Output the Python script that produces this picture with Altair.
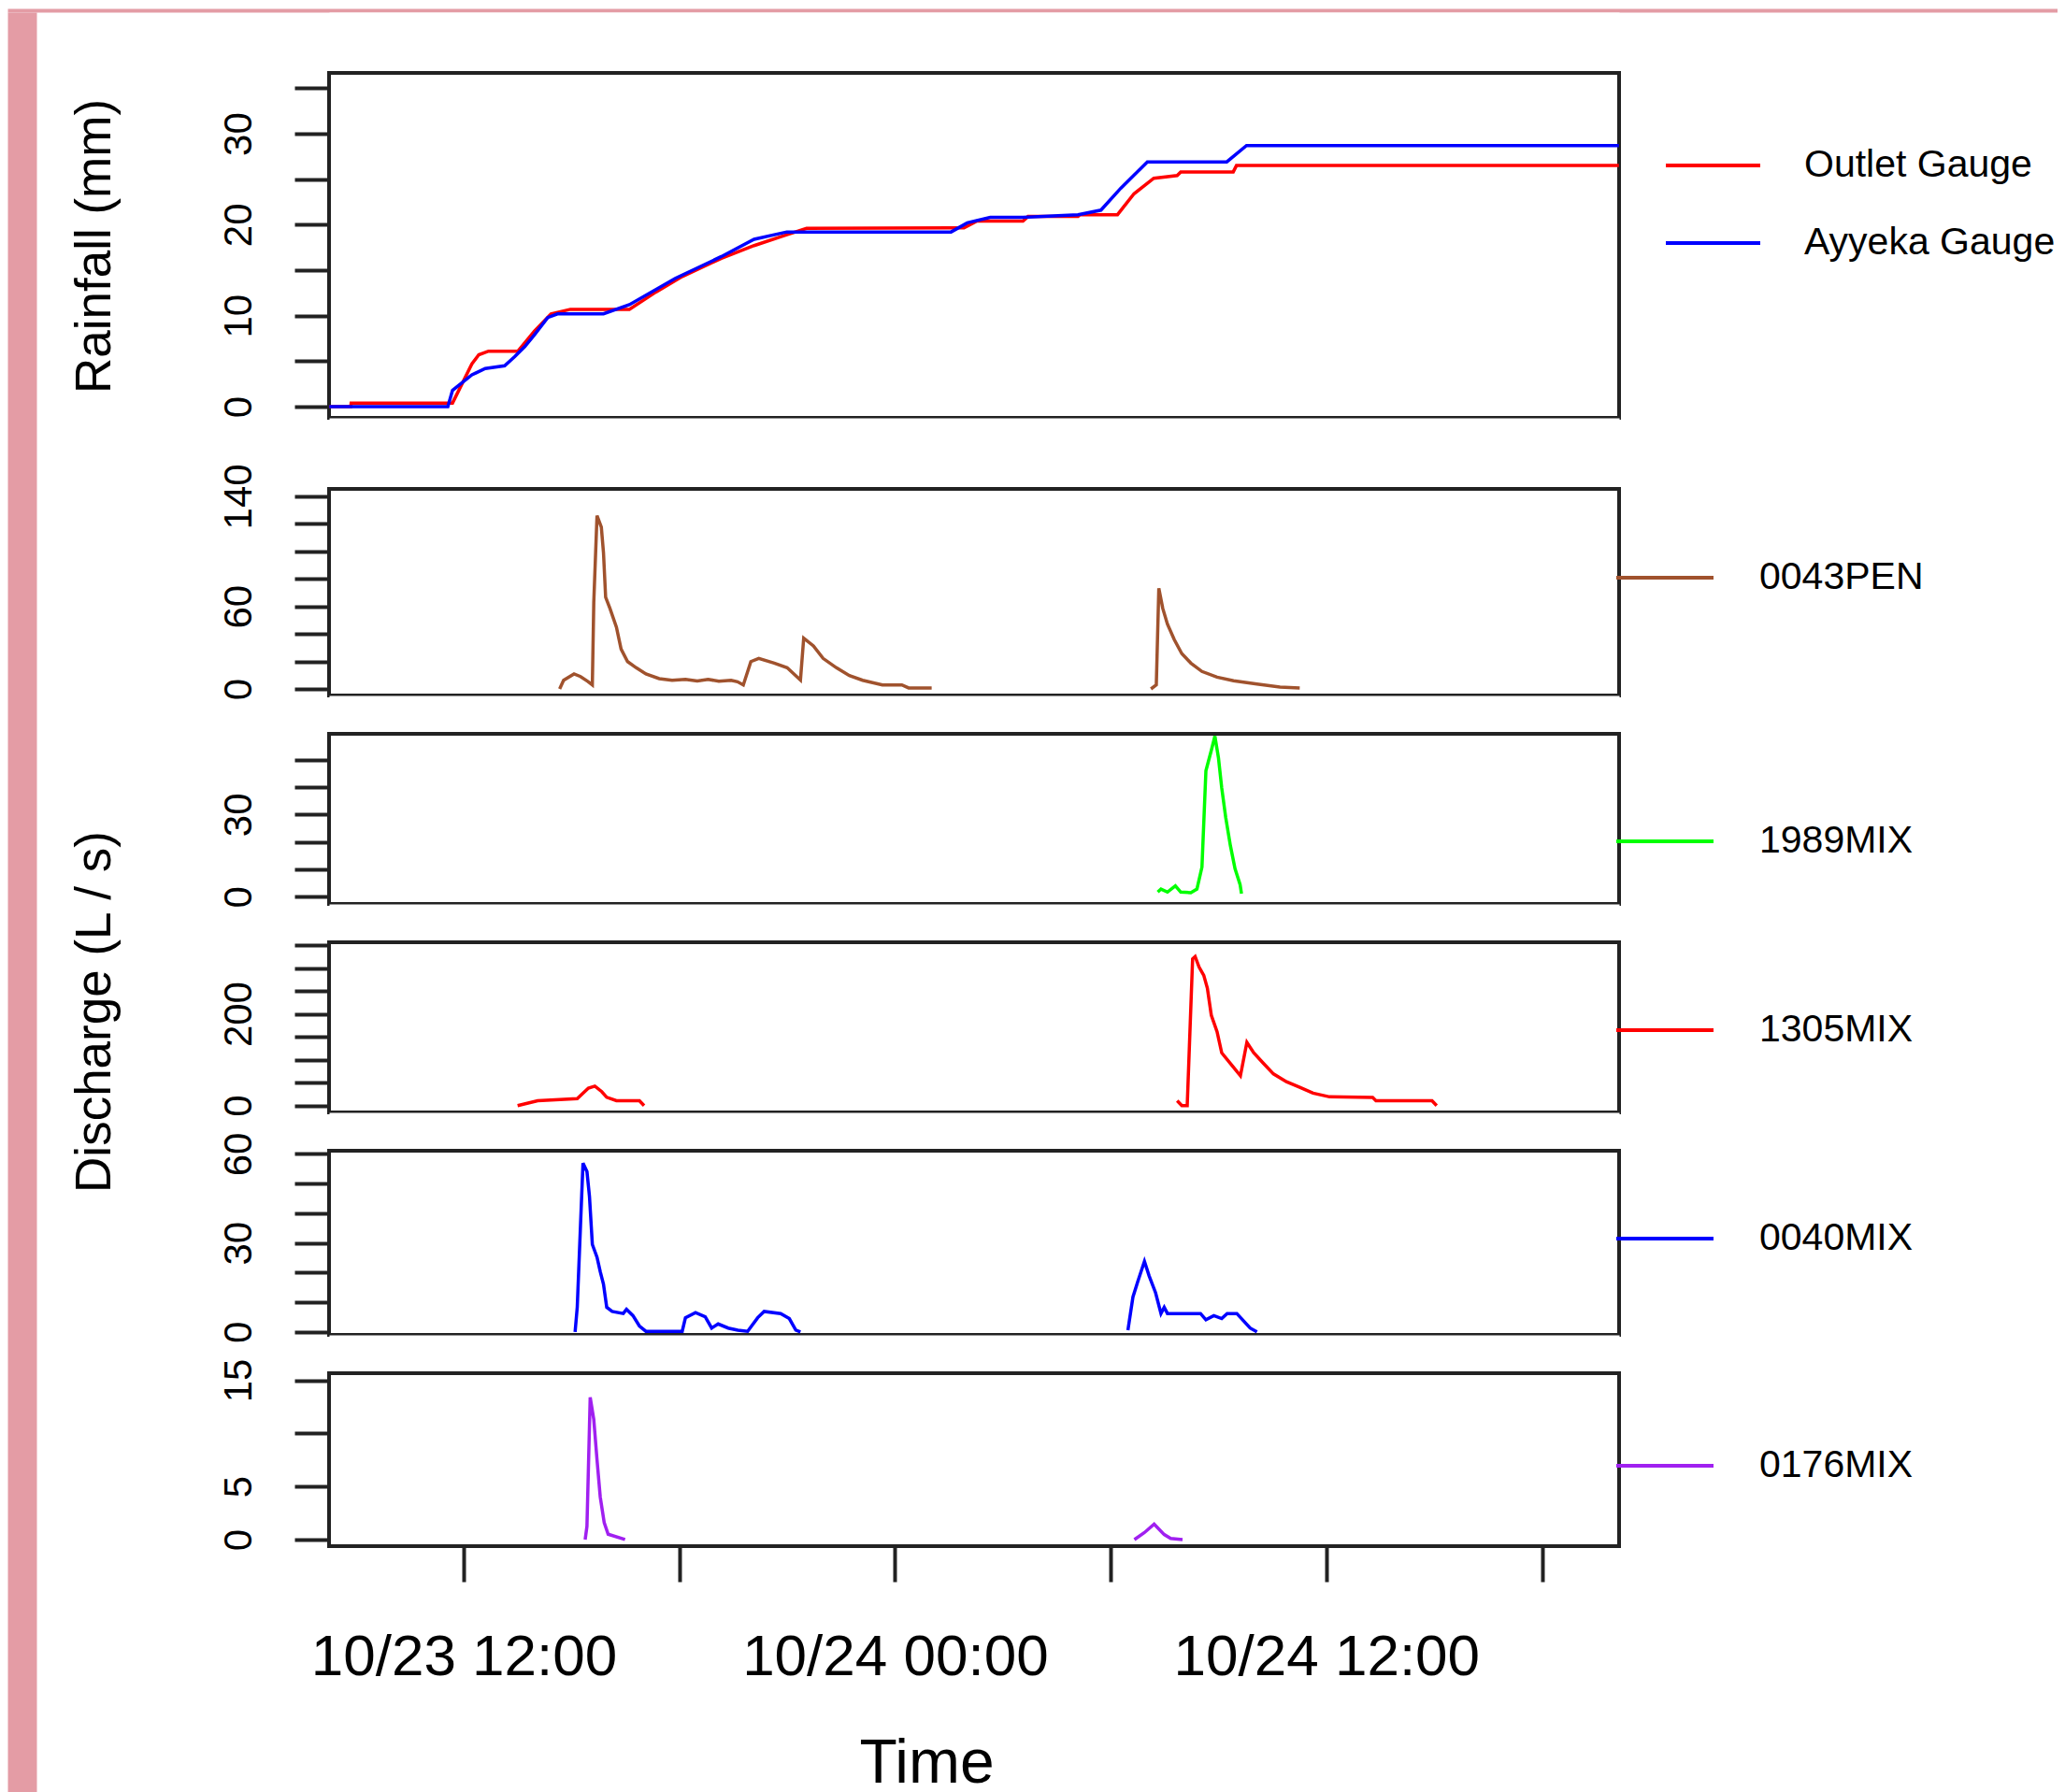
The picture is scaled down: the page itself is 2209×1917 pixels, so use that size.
import json
import altair as alt
import pandas as pd

FONT = "Liberation Sans"
PINK = "#e49ca5"
FRAME = "#222222"

# ---------------- x axis: hours since 10/23 00:00 ----------------
X_DOMAIN = [8.255, 44.145]
X_TICKS = [12, 18, 24, 30, 36, 42]
X_TICK_TEXT = ["10/23 12:00", "", "10/24 00:00", "", "10/24 12:00", ""]

# ---------------- Rainfall (mm) ----------------
OUTLET_T = [8.26, 8.86, 8.87, 11.69, 12.23, 12.42, 12.69, 13.51, 13.97, 14.43,
            14.97, 16.61, 17.35, 18.08, 19.17, 20.08, 20.99, 21.54, 25.92, 26.28,
            27.56, 27.7, 29.09, 29.15, 30.19, 30.65, 31.2, 31.85, 31.95, 33.41,
            33.5, 44.14]
OUTLET_MM = [0.0, 0.0, 0.4, 0.4, 4.7, 5.7, 6.1, 6.1, 8.3, 10.2,
             10.7, 10.7, 12.6, 14.3, 16.3, 17.7, 18.9, 19.6, 19.65, 20.4,
             20.4, 20.9, 20.9, 21.1, 21.1, 23.4, 25.1, 25.4, 25.8, 25.8,
             26.5, 26.5]
AYYEKA_T = [8.26, 11.56, 11.69, 12.23, 12.6, 13.14, 13.42, 13.7, 13.97, 14.34,
            14.61, 15.89, 16.61, 17.89, 19.17, 20.08, 20.99, 21.4, 25.56, 26.01,
            26.65, 27.56, 29.09, 29.73, 30.28, 31.02, 33.23, 33.78, 44.14]
AYYEKA_MM = [0.0, 0.0, 1.8, 3.5, 4.2, 4.5, 5.5, 6.6, 7.9, 9.8,
             10.2, 10.2, 11.2, 14.1, 16.5, 18.4, 19.2, 19.2, 19.2, 20.2,
             20.8, 20.8, 21.1, 21.6, 24.0, 26.9, 26.9, 28.7, 28.7]

# ---------------- Discharge (L/s), one list per event ----------------
PEN0043_T = [[14.67, 14.78, 15.07, 15.25, 15.46, 15.58, 15.62, 15.71, 15.83, 15.89,
              15.95, 16.07, 16.25, 16.38, 16.56, 16.8, 17.07, 17.44, 17.8, 18.17,
              18.5, 18.8, 19.1, 19.44, 19.62, 19.78, 19.99, 20.21, 20.64, 21.0,
              21.37, 21.46, 21.73, 22.0, 22.37, 22.73, 23.1, 23.65, 24.19, 24.38,
              25.02],
             [31.12, 31.27, 31.34, 31.45, 31.58, 31.77, 31.98, 32.23, 32.54, 32.96,
              33.42, 34.07, 34.71, 35.26]]
PEN0043_Q = [[0, 6.3, 10.9, 9.0, 5.4, 2.9, 63, 126, 117.6, 99,
              66.6, 58.5, 44.9, 29, 19.9, 15.4, 10.9, 7.5, 6.3, 7.0,
              5.8, 7.0, 5.6, 6.3, 5.2, 2.9, 19.9, 22.2, 18.8, 15.4,
              6.5, 36.9, 31.3, 22.2, 15.4, 9.7, 6.3, 2.9, 2.9, 0.7,
              0.7],
             [0, 2.9, 73.2, 58.5, 47.1, 35.8, 25.6, 18.8, 12.7, 8.6,
              5.9, 3.6, 1.4, 0.7]]

MIX1989_T = [[31.31, 31.4, 31.58, 31.8, 31.95, 32.23, 32.4, 32.54, 32.65, 32.8,
              32.9, 33.0, 33.09, 33.2, 33.33, 33.46, 33.6, 33.64]]
MIX1989_Q = [[1.7, 2.8, 1.7, 4.0, 1.7, 1.5, 2.8, 10.8, 46.0, 53.4,
              58.6, 50.6, 39.7, 29.0, 18.7, 10.2, 4.5, 1.1]]

MIX1305_T = [[13.5, 14.06, 15.16, 15.47, 15.65, 15.84, 15.98, 16.25, 16.89, 17.02],
             [31.85, 31.98, 32.13, 32.19, 32.28, 32.35, 32.46, 32.59, 32.69, 32.8,
              32.96, 33.09, 33.33, 33.61, 33.79, 33.98, 34.25, 34.53, 34.89, 35.26,
              35.63, 36.09, 37.29, 37.38, 38.94, 39.07]]
MIX1305_Q = [[0, 10.5, 15, 38, 42.4, 30.5, 18, 10.6, 10.6, 0],
             [10.6, 0, 0, 128, 320, 325, 302, 284, 256, 197,
              161, 115, 92, 65, 138, 115, 92, 69, 52, 40,
              27, 19, 17.5, 10.6, 10.6, 0]]

MIX0040_T = [[15.1, 15.16, 15.25, 15.32, 15.43, 15.5, 15.58, 15.71, 15.8, 15.89,
              15.98, 16.13, 16.44, 16.53, 16.71, 16.89, 17.07, 18.08, 18.17, 18.45,
              18.72, 18.9, 19.08, 19.36, 19.63, 19.9, 20.18, 20.36, 20.82, 21.06,
              21.24, 21.37],
             [30.48, 30.62, 30.75, 30.94, 31.07, 31.25, 31.4, 31.49, 31.58, 32.5,
              32.65, 32.87, 33.09, 33.24, 33.51, 33.7, 33.88, 34.07]]
MIX0040_Q = [[0, 8.3, 35.8, 56.9, 54.1, 45.7, 29.5, 25.2, 20.3, 16.1,
              8.3, 6.9, 6.2, 7.6, 5.5, 2.0, 0.2, 0.2, 4.8, 6.5,
              5.1, 1.3, 2.7, 1.3, 0.6, 0.2, 4.8, 6.9, 6.2, 4.5,
              0.6, 0],
             [0.6, 11.8, 16.8, 23.8, 18.9, 13.2, 6.2, 8.3, 6.2, 6.2,
              4.1, 5.5, 4.5, 6.2, 6.2, 3.7, 1.3, 0]]

MIX0176_T = [[15.38, 15.43, 15.52, 15.62, 15.71, 15.8, 15.91, 16.02, 16.49],
             [30.66, 30.94, 31.21, 31.49, 31.67, 32.0]]
MIX0176_Q = [[0, 1.25, 13.4, 11.3, 7.5, 4.0, 1.6, 0.5, 0],
             [0, 0.66, 1.45, 0.47, 0.1, 0]]

RAIN_NAMES = ["Outlet Gauge", "Ayyeka Gauge"]
RAIN_COLORS = ["#ff0000", "#0000ff"]
SITES = ["0043PEN", "1989MIX", "1305MIX", "0040MIX", "0176MIX"]
SITE_COLORS = ["#a0522d", "#00ff00", "#ff0000", "#0000ff", "#a020f0"]

PLOT_W = 1380


def frame_of(name, t_lists, v_lists):
    rows = []
    for k, (ts, vs) in enumerate(zip(t_lists, v_lists)):
        for t, v in zip(ts, vs):
            rows.append({"t": t, "v": v, "series": name, "seg": f"{name}-{k}"})
    return pd.DataFrame(rows)


def y_axis(ticks, labeled, title=None, title_y=0):
    kw = dict(values=ticks, format="d",
              labelExpr=f"indexof({json.dumps(labeled)}, datum.value) >= 0 ? datum.label : ''",
              tickSize=37, tickWidth=4, tickColor=FRAME, domain=False, grid=False,
              labelAngle=270, labelAlign="center", labelBaseline="alphabetic",
              labelPadding=47, labelFontSize=42, labelFont=FONT, labelColor="black",
              labelOverlap=False, labelFlush=False, labelLimit=0)
    if title:
        kw.update(title=title, titleAngle=270, titleAlign="center",
                  titleBaseline="alphabetic", titleX=-235, titleY=title_y,
                  titleFontSize=53, titleFont=FONT, titleFontWeight="normal",
                  titleColor="black", titleLimit=0)
    else:
        kw.update(title=None)
    return alt.Axis(**kw)


def x_axis():
    expr = f"{json.dumps(X_TICK_TEXT)}[indexof({json.dumps(X_TICKS)}, datum.value)]"
    return alt.Axis(values=X_TICKS, labelExpr=expr, tickSize=38, tickWidth=4,
                    tickColor=FRAME, domain=False, grid=False, labelFontSize=62,
                    labelFont=FONT, labelColor="black", labelPadding=50,
                    labelOverlap=False, labelFlush=False, labelLimit=0,
                    title="Time", titleFontSize=66, titleFont=FONT,
                    titleFontWeight="normal", titleColor="black",
                    titleX=639, titleY=252, titleAlign="center",
                    titleBaseline="alphabetic", titleLimit=0)


def legend(lx, ly, sym_len, offset, row_pad=0):
    return alt.Legend(orient="none", legendX=lx, legendY=ly, title=None,
                      symbolType="stroke", symbolSize=sym_len * sym_len,
                      symbolStrokeWidth=4, symbolOffset=0, labelFont=FONT,
                      labelFontSize=41, labelColor="black", labelOffset=offset,
                      labelLimit=0, padding=0, clipHeight=40, rowPadding=row_pad)


def panel(df, names, colors, y_domain, ticks, labeled, height, leg,
          show_x=False, title=None, title_y=0):
    return alt.Chart(df).mark_line(strokeWidth=3.5, clip=True).encode(
        x=alt.X("t:Q", scale=alt.Scale(domain=X_DOMAIN, nice=False, zero=False),
                axis=x_axis() if show_x else None),
        y=alt.Y("v:Q", scale=alt.Scale(domain=y_domain, nice=False, zero=False),
                axis=y_axis(ticks, labeled, title, title_y)),
        color=alt.Color("series:N", scale=alt.Scale(domain=names, range=colors),
                        legend=leg),
        detail="seg:N",
    ).properties(width=PLOT_W, height=height,
                 view=alt.ViewBackground(fill="white", stroke=FRAME, strokeWidth=4))


def blank(w, h, fill="white"):
    return alt.Chart(pd.DataFrame({"s": [0]})).mark_point(opacity=0).encode(
        x=alt.X("s:Q", axis=None), y=alt.Y("s:Q", axis=None)
    ).properties(width=w, height=h,
                 view=alt.ViewBackground(fill=fill, strokeOpacity=0))


rain_df = pd.concat([frame_of(RAIN_NAMES[0], [OUTLET_T], [OUTLET_MM]),
                     frame_of(RAIN_NAMES[1], [AYYEKA_T], [AYYEKA_MM])])

p1 = panel(rain_df, RAIN_NAMES, RAIN_COLORS, [-1.23, 36.68],
           [0, 5, 10, 15, 20, 25, 30, 35], [0, 10, 20, 30], 369,
           legend(1428, 79, 101, 45, row_pad=42), title="Rainfall (mm)", title_y=185)
p2 = panel(frame_of(SITES[0], PEN0043_T, PEN0043_Q), [SITES[0]], [SITE_COLORS[0]],
           [-4.76, 145.4], [0, 20, 40, 60, 80, 100, 120, 140], [0, 60, 140], 221,
           legend(1375, 75, 104, 47), title="Discharge (L / s)", title_y=559)
p3 = panel(frame_of(SITES[1], MIX1989_T, MIX1989_Q), [SITES[1]], [SITE_COLORS[1]],
           [-2.63, 59.45], [0, 10, 20, 30, 40, 50], [0, 30], 182,
           legend(1375, 95, 104, 47))
p4 = panel(frame_of(SITES[2], MIX1305_T, MIX1305_Q), [SITES[2]], [SITE_COLORS[2]],
           [-14.9, 356.1], [0, 50, 100, 150, 200, 250, 300, 350], [0, 200], 182,
           legend(1375, 74, 104, 47))
p5 = panel(frame_of(SITES[3], MIX0040_T, MIX0040_Q), [SITES[3]], [SITE_COLORS[3]],
           [-1.0, 61.1], [0, 10, 20, 30, 40, 50, 60], [0, 30, 60], 197,
           legend(1375, 74, 104, 47))
p6 = panel(frame_of(SITES[4], MIX0176_T, MIX0176_Q), [SITES[4]], [SITE_COLORS[4]],
           [-0.62, 15.66], [0, 5, 10, 15], [0, 5, 15], 185,
           legend(1375, 79, 104, 47), show_x=True)

main = alt.vconcat(blank(PLOT_W, 65), p1, blank(PLOT_W, 76), p2, blank(PLOT_W, 41), p3,
                   blank(PLOT_W, 41), p4, blank(PLOT_W, 41), p5, blank(PLOT_W, 41), p6,
                   spacing=0, bounds="flush").resolve_scale(color="independent")

left_strip = blank(31, 1905, fill=PINK)
top_strip = blank(2193, 4, fill=PINK)

body = alt.hconcat(left_strip, main, spacing=313, bounds="flush").resolve_scale(
    color="independent")

chart = alt.vconcat(top_strip, body, spacing=0, bounds="flush").resolve_scale(
    color="independent"
).properties(padding=0, background="white").configure(font=FONT)

chart.save("out.html", embed_options={"renderer": "svg", "actions": False})
